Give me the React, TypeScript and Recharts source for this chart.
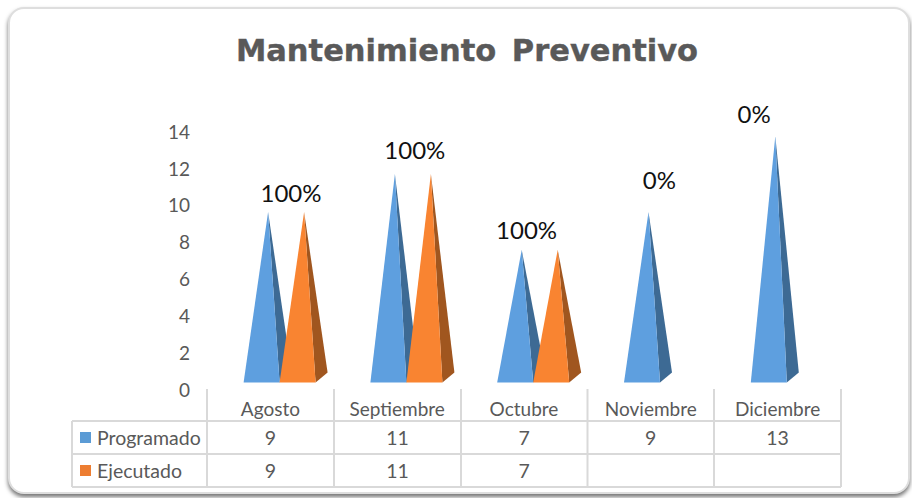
import React from "react";
import { ComposedChart, Bar, Line, XAxis, YAxis, LabelList } from "recharts";

const months = ["Agosto", "Septiembre", "Octubre", "Noviembre", "Diciembre"];
const programado = [9, 11, 7, 9, 13];
const ejecutado: (number | null)[] = [9, 11, 7, null, null];
const percentLabels = ["100%", "100%", "100%", "0%", "0%"];
const yTicks = [0, 2, 4, 6, 8, 10, 12, 14];

const rows = months.map((m, i) => ({
  month: m,
  Programado: programado[i],
  Ejecutado: ejecutado[i],
  pct: percentLabels[i],
}));

const FONT = "Lato, 'Noto Sans', sans-serif";
const GRID = "#d9d9d9";
const TEXT = "#595959";
const labelOffsets = [
  [21, -19],
  [18, -25],
  [3, -20],
  [9, -32],
  [-23, -23],
];

const Pyramid = (front: string, side: string) => (p: any) => {
  const { x, y, width, height } = p;
  if (!height || height <= 0) return <g />;
  const l = x + 9.6;
  const r = l + width;
  const ax = l + 24.5;
  const b = y + height;
  return (
    <g>
      <polygon points={`${r},${b} ${r + 12},${b - 10} ${ax},${y}`} fill={side} />
      <polygon points={`${l},${b} ${r},${b} ${ax},${y}`} fill={front} />
    </g>
  );
};

const PctLabel = (p: any) => {
  const { index, x, y, width, value } = p;
  const cx = x + width;
  const [dx, dy] = labelOffsets[index];
  return (
    <text x={cx + dx} y={y + dy} textAnchor="middle" dominantBaseline="central" fontFamily={FONT} fontSize={24} fill="#111">
      {value}
    </text>
  );
};

const colX = [207, 334, 461, 587.5, 714, 841];
const rowY = [421, 454, 487];

function Table() {
  const legend = [
    { name: "Programado", color: "#5B9BD5", vals: programado, y: 437 },
    { name: "Ejecutado", color: "#ED7D31", vals: ejecutado, y: 470 },
  ];
  return (
    <svg width={912} height={498} style={{ position: "absolute", left: 0, top: 0 }}>
      {colX.map((x) => (
        <line key={x} x1={x} x2={x} y1={389} y2={rowY[2]} stroke={GRID} strokeWidth={2} />
      ))}
      {rowY.map((y) => (
        <line key={y} x1={72} x2={841} y1={y} y2={y} stroke={GRID} strokeWidth={2} />
      ))}
      <line x1={72} x2={72} y1={rowY[0]} y2={rowY[2]} stroke={GRID} strokeWidth={2} />
      {legend.map((s) => (
        <g key={s.name}>
          <rect x={80} y={s.y - 5} width={11} height={11} fill={s.color} />
          <text x={97} y={s.y} dominantBaseline="central" fontFamily={FONT} fontSize={19.5} fill={TEXT}>
            {s.name}
          </text>
          {s.vals.map((v, i) =>
            v == null ? null : (
              <text key={i} x={(colX[i] + colX[i + 1]) / 2} y={s.y} textAnchor="middle" dominantBaseline="central" fontFamily={FONT} fontSize={19.5} fill={TEXT}>
                {v}
              </text>
            ),
          )}
        </g>
      ))}
    </svg>
  );
}

export default function App() {
  return (
    <div style={{ position: "absolute", left: 0, top: 0, width: 912, height: 498, overflow: "hidden", background: "#fff" }}>
      <div
        style={{
          position: "absolute",
          left: 8,
          top: 7,
          width: 898,
          height: 483,
          border: "2px solid #dedede",
          borderRadius: 16,
          boxShadow: "0 3px 4px rgba(0,0,0,0.55)",
          background: "#fff",
        }}
      />
      <div
        style={{
          position: "absolute",
          left: 0,
          width: 934,
          top: 33,
          textAlign: "center",
          fontFamily: "'DejaVu Sans', sans-serif",
          fontWeight: 700,
          fontSize: 30.5,
          wordSpacing: 5,
          WebkitTextStroke: "0.4px #595959",
          color: TEXT,
          whiteSpace: "pre",
        }}
      >
        Mantenimiento Preventivo
      </div>
      <Table />
      <div style={{ position: "absolute", left: 0, top: 0 }}>
        <ComposedChart
          width={912}
          height={498}
          data={rows}
          barSize={36}
          barGap={0}
          margin={{ left: 147, right: 71, top: 132, bottom: 78 }}
        >
          <XAxis
            dataKey="month"
            height={30}
            axisLine={false}
            tickLine={false}
            tick={{ fontFamily: FONT, fontSize: 19, fill: TEXT }}
            tickMargin={7}
            interval={0}
          />
          <YAxis
            yAxisId="left"
            width={60}
            domain={[0, 14]}
            ticks={yTicks}
            axisLine={false}
            tickLine={false}
            tickMargin={11}
            tick={{ fontFamily: FONT, fontSize: 19, fill: TEXT }}
          />
          <YAxis yAxisId="bar" orientation="right" hide domain={[-0.4, 13.22]} allowDataOverflow />
          <Line yAxisId="left" dataKey="Programado" stroke="none" dot={false} legendType="none" isAnimationActive={false} />
          <Bar yAxisId="bar" dataKey="Programado" isAnimationActive={false} shape={Pyramid("#5E9FDF", "#3D6A94")}>
            <LabelList dataKey="pct" content={PctLabel} />
          </Bar>
          <Bar yAxisId="bar" dataKey="Ejecutado" isAnimationActive={false} shape={Pyramid("#F98431", "#A0561F")} />
        </ComposedChart>
      </div>
    </div>
  );
}
